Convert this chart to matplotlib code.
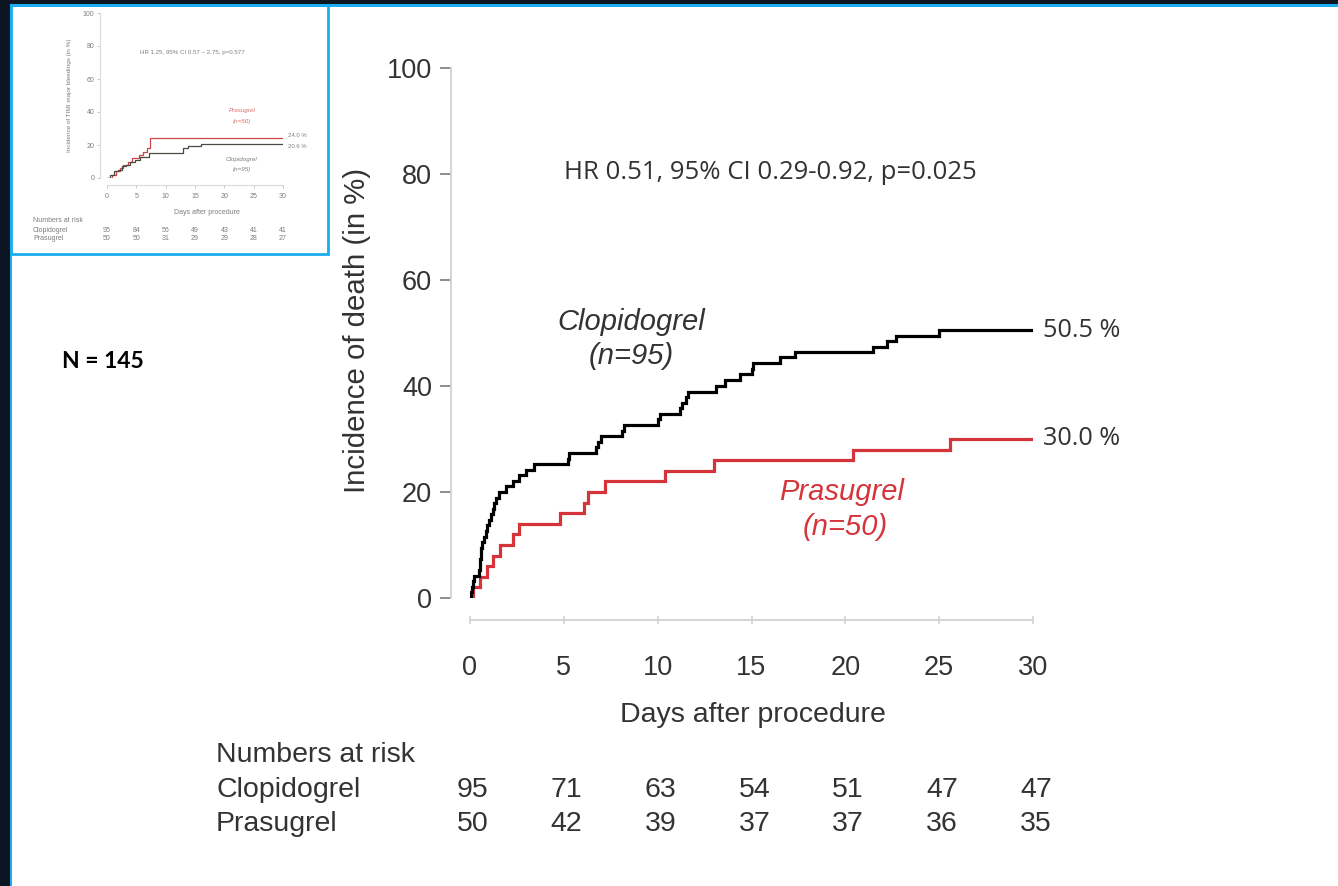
import matplotlib
matplotlib.use("Agg")
import matplotlib.pyplot as plt
from matplotlib.patches import Rectangle
from matplotlib.transforms import blended_transform_factory

W, H = 1338, 886

# ---- Main endpoint: cumulative incidence of death (%) ----
clopi_days = [0, 0.05, 0.1, 0.15, 0.2, 0.5, 0.52, 0.55, 0.58, 0.6, 0.65, 0.75,
              0.85, 0.9, 1.0, 1.1, 1.2, 1.3, 1.4, 1.55, 1.9, 2.3, 2.6, 3.0, 3.4,
              5.2, 5.3, 6.7, 6.8, 7.0, 8.1, 8.2, 10.0, 10.1, 11.2, 11.3, 11.5,
              11.6, 13.1, 13.6, 14.4, 15.0, 15.1, 16.5, 17.3, 21.5, 22.2, 22.7, 25.0]
clopi_pct = [0, 1.1, 2.1, 3.2, 4.2, 5.3, 6.3, 7.4, 8.4, 9.5, 10.5, 11.6,
             12.6, 13.7, 14.7, 15.8, 16.8, 17.9, 18.9, 20.0, 21.1, 22.1, 23.2, 24.2, 25.3,
             26.3, 27.4, 28.4, 29.5, 30.5, 31.6, 32.6, 33.7, 34.7, 35.8, 36.8, 37.9,
             38.9, 40.0, 41.1, 42.2, 43.2, 44.3, 45.4, 46.4, 47.4, 48.4, 49.5, 50.5]

prasu_days = [0, 0.18, 0.53, 0.89, 1.24, 1.6, 2.3, 2.6, 4.8, 6.1, 6.3, 7.2,
              10.4, 13.0, 20.4, 25.6]
prasu_pct = [0, 2, 4, 6, 8, 10, 12, 14, 16, 18, 20, 22, 24, 26, 28, 30]

day_ticks = [0, 5, 10, 15, 20, 25, 30]
pct_ticks = [0, 20, 40, 60, 80, 100]
risk_clopi = [95, 71, 63, 54, 51, 47, 47]
risk_prasu = [50, 42, 39, 37, 37, 36, 35]

# ---- Small panel: TIMI major bleeding (%) ----
bleed_clopi_days = [0, 0.5, 1.2, 1.8, 2.5, 3.2, 4.0, 4.8, 5.6, 7.2, 12.9, 13.8, 16.0]
bleed_clopi_pct = [0, 2, 4, 5, 7, 8, 10, 11, 13, 15.3, 17.9, 19.1, 20.6]
bleed_prasu_days = [0, 0.8, 1.5, 2.2, 2.8, 3.5, 4.2, 5.5, 6.2, 6.8, 7.3]
bleed_prasu_pct = [0, 2, 4, 6, 8, 10, 12, 14, 16, 18, 24.0]
bleed_risk_clopi = [95, 84, 56, 49, 43, 41, 41]
bleed_risk_prasu = [50, 50, 31, 29, 29, 28, 27]

ARIAL = "Liberation Sans"
SEGOE = "Open Sans"
RED = "#d5343b"
INK = "#333333"
FS = 20.5


def fx(px):
    return px / W


def fy(py):
    return 1 - py / H


def extend(days, pct, end=30):
    return list(days) + [end], list(pct) + [pct[-1]]


fig = plt.figure(figsize=(W / 100, H / 100), dpi=100)
fig.patch.set_facecolor("white")

# frame strips along the top and left edges
NAVY = "#0b1622"
CYAN = "#19aef0"
fig.add_artist(Rectangle((0, fy(4)), 1, 4 / H, transform=fig.transFigure,
                         facecolor=NAVY, edgecolor="none", zorder=0))
fig.add_artist(Rectangle((0, 0), fx(9.5), 1, transform=fig.transFigure,
                         facecolor=NAVY, edgecolor="none", zorder=0))
fig.add_artist(Rectangle((fx(9.5), fy(6.8)), 1, 2.8 / H, transform=fig.transFigure,
                         facecolor=CYAN, edgecolor="none", zorder=1))
fig.add_artist(Rectangle((fx(9.5), 0), 2.4 / W, fy(4), transform=fig.transFigure,
                         facecolor=CYAN, edgecolor="none", zorder=1))
# box round the small panel
fig.add_artist(Rectangle((fx(10.5), fy(253.5)), fx(328) - fx(10.5), fy(5.5) - fy(253.5),
                         transform=fig.transFigure, facecolor="none",
                         edgecolor=CYAN, linewidth=2.0, zorder=2))

# ================= main chart =================
ax = fig.add_axes([fx(470), fy(598), fx(1033) - fx(470), fy(68) - fy(598)])
ax.set_xlim(0, 30)
ax.set_ylim(0, 100)
for side in ("top", "right"):
    ax.spines[side].set_visible(False)
ax.spines["left"].set_position(("outward", 13.7))
ax.spines["bottom"].set_position(("outward", 15.8))
ax.spines["left"].set_bounds(0, 100)
ax.spines["bottom"].set_bounds(0, 30)
for side in ("left", "bottom"):
    ax.spines[side].set_color("#d2d2d2")
    ax.spines[side].set_linewidth(1.3)
ax.set_xticks(day_ticks)
ax.set_yticks(pct_ticks)
ax.tick_params(axis="y", length=8, width=1.2, color="#7a7a7a", pad=5.5,
               labelsize=19.5, labelcolor=INK)
ax.tick_params(axis="x", direction="inout", length=6, width=1.1, color="#cfcfcf",
               pad=22, labelsize=19.5, labelcolor=INK)
for lab in ax.get_xticklabels() + ax.get_yticklabels():
    lab.set_fontfamily(ARIAL)

cx, cy = extend(clopi_days, clopi_pct)
px_, py_ = extend(prasu_days, prasu_pct)
ax.step(px_, py_, where="post", color=RED, linewidth=2.3, solid_joinstyle="miter", zorder=3)
ax.step(cx, cy, where="post", color="black", linewidth=2.3, solid_joinstyle="miter", zorder=4)

ax.text(30.55, clopi_pct[-1], f"{clopi_pct[-1]:.1f} %", fontsize=18.2, family=SEGOE,
        color=INK, ha="left", va="center")
ax.text(30.55, prasu_pct[-1], f"{prasu_pct[-1]:.1f} %", fontsize=18.2, family=SEGOE,
        color=INK, ha="left", va="center")

ax.text(5.0, 80.2, "HR 0.51, 95% CI 0.29-0.92, p=0.025", fontsize=18.5, family=SEGOE,
        color=INK, ha="left", va="center")

ax.text(8.6, 52.0, "Clopidogrel", fontsize=21, family=ARIAL, style="italic",
        color=INK, ha="center", va="center")
ax.text(8.6, 45.6, "(n=95)", fontsize=21, family=ARIAL, style="italic",
        color=INK, ha="center", va="center")
ax.text(19.8, 20.0, "Prasugrel", fontsize=21, family=ARIAL, style="italic",
        color=RED, ha="center", va="center")
ax.text(20.0, 13.4, "(n=50)", fontsize=21, family=ARIAL, style="italic",
        color=RED, ha="center", va="center")

fig.text(fx(357), fy(330), "Incidence of death (in %)", rotation=90, fontsize=21.2,
         family=ARIAL, color=INK, ha="center", va="center")
fig.text(fx(753), fy(715), "Days after procedure", fontsize=FS, family=ARIAL,
         color=INK, ha="center", va="center")

# numbers at risk table
tr = blended_transform_factory(ax.transData, fig.transFigure)
fig.text(fx(216), fy(755), "Numbers at risk", fontsize=FS, family=ARIAL, color=INK,
         ha="left", va="center")
fig.text(fx(216), fy(790), "Clopidogrel", fontsize=FS, family=ARIAL, color=INK,
         ha="left", va="center")
fig.text(fx(216), fy(824), "Prasugrel", fontsize=FS, family=ARIAL, color=INK,
         ha="left", va="center")
for d, a, b in zip(day_ticks, risk_clopi, risk_prasu):
    ax.text(d + 0.15, fy(790), str(a), transform=tr, fontsize=FS, family=ARIAL,
            color=INK, ha="center", va="center", clip_on=False)
    ax.text(d + 0.15, fy(824), str(b), transform=tr, fontsize=FS, family=ARIAL,
            color=INK, ha="center", va="center", clip_on=False)

fig.text(fx(62), fy(362), "N = 145", fontsize=16.5, family="Lato", weight="bold",
         color="black", ha="left", va="center")

# ================= small panel =================
GREY = "#7d7d7d"
LRED = "#dc6a6a"
bx = fig.add_axes([fx(107), fy(178), fx(283) - fx(107), fy(13) - fy(178)])
bx.set_xlim(0, 30)
bx.set_ylim(0, 100)
for side in ("top", "right"):
    bx.spines[side].set_visible(False)
bx.spines["left"].set_position(("outward", 5))
bx.spines["bottom"].set_position(("outward", 5))
for side in ("left", "bottom"):
    bx.spines[side].set_color("#dadada")
    bx.spines[side].set_linewidth(0.8)
bx.set_xticks(day_ticks)
bx.set_yticks(pct_ticks)
bx.tick_params(axis="both", length=2, width=0.6, color="#bdbdbd", pad=2,
               labelsize=5, labelcolor=GREY)
bx.tick_params(axis="x", pad=4)
for lab in bx.get_xticklabels() + bx.get_yticklabels():
    lab.set_fontfamily(ARIAL)

bcx, bcy = extend(bleed_clopi_days, bleed_clopi_pct)
bpx, bpy = extend(bleed_prasu_days, bleed_prasu_pct)
bx.step(bpx, bpy, where="post", color="#c84848", linewidth=0.9)
bx.step(bcx, bcy, where="post", color="#4a4a42", linewidth=0.9)

bx.text(30.8, bleed_prasu_pct[-1] + 1.5, f"{bleed_prasu_pct[-1]:.1f} %", fontsize=4.3,
        family=ARIAL, color=GREY, ha="left", va="center")
bx.text(30.8, bleed_clopi_pct[-1] - 1.5, f"{bleed_clopi_pct[-1]:.1f} %", fontsize=4.3,
        family=ARIAL, color=GREY, ha="left", va="center")
bx.text(14.5, 76, "HR 1.25, 95% CI 0.57 \u2013 2.75, p=0.577", fontsize=4.4,
        family=ARIAL, color=GREY, ha="center", va="center")
bx.text(23.0, 41, "Prasugrel", fontsize=4.5, family=ARIAL, style="italic",
        color=LRED, ha="center", va="center")
bx.text(23.0, 34, "(n=50)", fontsize=4.5, family=ARIAL, style="italic",
        color=LRED, ha="center", va="center")
bx.text(23.0, 11, "Clopidogrel", fontsize=4.5, family=ARIAL, style="italic",
        color=GREY, ha="center", va="center")
bx.text(23.0, 5, "(n=95)", fontsize=4.5, family=ARIAL, style="italic",
        color=GREY, ha="center", va="center")

fig.text(fx(70), fy(95), "Incidence of TIMI major bleedings (in %)", rotation=90,
         fontsize=4.6, family=ARIAL, color=GREY, ha="center", va="center")
fig.text(fx(207), fy(212), "Days after procedure", fontsize=5, family=ARIAL,
         color=GREY, ha="center", va="center")
btr = blended_transform_factory(bx.transData, fig.transFigure)
fig.text(fx(33), fy(221), "Numbers at risk", fontsize=5, family=ARIAL, color=GREY,
         ha="left", va="center")
fig.text(fx(33), fy(230), "Clopidogrel", fontsize=5, family=ARIAL, color=GREY,
         ha="left", va="center")
fig.text(fx(33), fy(238), "Prasugrel", fontsize=5, family=ARIAL, color=GREY,
         ha="left", va="center")
for d, a, b in zip(day_ticks, bleed_risk_clopi, bleed_risk_prasu):
    bx.text(d, fy(230), str(a), transform=btr, fontsize=5, family=ARIAL,
            color=GREY, ha="center", va="center", clip_on=False)
    bx.text(d, fy(238), str(b), transform=btr, fontsize=5, family=ARIAL,
            color=GREY, ha="center", va="center", clip_on=False)

fig.savefig("out.png", dpi=100)
